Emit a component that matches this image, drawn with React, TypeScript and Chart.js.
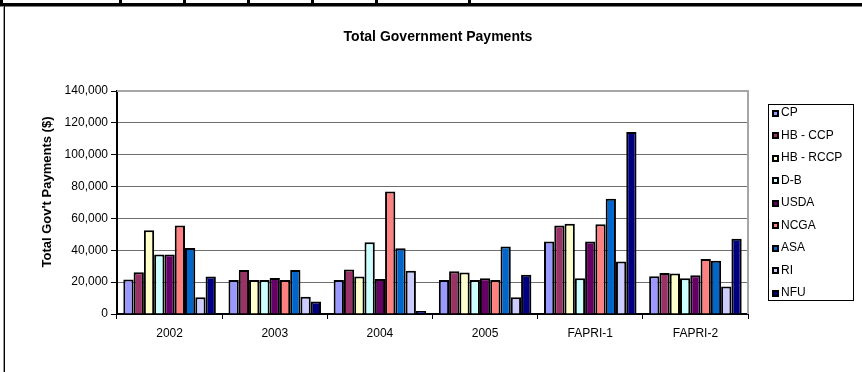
import React, { useEffect, useRef } from "react";
import { Chart, registerables } from "chart.js";

Chart.register(...registerables);

const categories = ["2002", "2003", "2004", "2005", "FAPRI-1", "FAPRI-2"];
const seriesNames = ["CP", "HB - CCP", "HB - RCCP", "D-B", "USDA", "NCGA", "ASA", "RI", "NFU"];
const seriesColors = ["#9999FF", "#993366", "#FFFFCC", "#CCFFFF", "#660066", "#FF8080", "#0066CC", "#CCCCFF", "#000080"];

const cp = [21600, 21400, 21400, 21400, 45500, 23700];
const hbCcp = [26200, 27700, 27900, 26800, 55500, 25800];
const hbRccp = [52600, 21400, 23500, 26000, 56600, 25400];
const dB = [37300, 21400, 45100, 21400, 22400, 22400];
const usda = [37300, 22600, 22000, 22400, 45500, 24300];
const ncga = [55500, 21400, 76900, 21400, 56400, 34600];
const asa = [41500, 27700, 41300, 42300, 72300, 33500];
const ri = [10500, 10900, 27200, 10500, 32900, 17200];
const nfu = [23500, 7800, 1900, 24700, 114200, 47200];

const seriesValues = [cp, hbCcp, hbRccp, dB, usda, ncga, asa, ri, nfu];

const yMin = 0;
const yMax = 140000;
const yStep = 20000;

const chartTitle = "Total Government Payments";
const yAxisTitle = "Total Gov't Payments ($)";

const FONT = "'Liberation Sans', Arial, sans-serif";

const overlayPlugin = {
  id: "overlay",
  afterDatasetsDraw(chart: any) {
    const { ctx, chartArea: a } = chart;
    ctx.save();
    ctx.strokeStyle = "#a6a6a6";
    ctx.lineWidth = 2;
    ctx.beginPath();
    ctx.moveTo(a.left, a.top);
    ctx.lineTo(a.right, a.top);
    ctx.lineTo(a.right, a.bottom);
    ctx.stroke();
    ctx.restore();
  },
  afterDraw(chart: any) {
    const { ctx } = chart;
    ctx.save();
    ctx.fillStyle = "#000";
    ctx.font = `bold 14px ${FONT}`;
    ctx.textAlign = "center";
    ctx.textBaseline = "middle";
    ctx.fillText(chartTitle, 438, 37);
    ctx.save();
    ctx.translate(47, 192);
    ctx.rotate(-Math.PI / 2);
    ctx.font = `bold 13px ${FONT}`;
    ctx.fillText(yAxisTitle, 0, 0);
    ctx.restore();
    const bx = 768, by = 104, bw = 85, bh = 196;
    ctx.fillStyle = "#fff";
    ctx.fillRect(bx, by, bw, bh);
    ctx.strokeStyle = "#000";
    ctx.lineWidth = 1;
    ctx.strokeRect(bx + 0.5, by + 0.5, bw, bh);
    ctx.font = `12px ${FONT}`;
    ctx.textAlign = "left";
    chart.data.datasets.forEach((ds: any, i: number) => {
      const cy = 113 + i * 22.5;
      const top = Math.round(cy - 3.5);
      ctx.fillStyle = "#000";
      ctx.fillRect(772, top, 7, 7);
      ctx.fillStyle = ds.backgroundColor;
      ctx.fillRect(774, top + 2, 3, 3);
      ctx.fillStyle = "#000";
      ctx.fillText(ds.label, 781, cy);
    });
    ctx.restore();
  },
};

export default function App() {
  const ref = useRef<HTMLCanvasElement | null>(null);

  useEffect(() => {
    if (!ref.current) return;
    const chart = new Chart(ref.current, {
      type: "bar",
      data: {
        labels: categories,
        datasets: seriesNames.map((name, i) => ({
          label: name,
          data: seriesValues[i],
          backgroundColor: seriesColors[i],
          borderColor: "#000000",
          borderWidth: 2,
          borderSkipped: "start",
          inflateAmount: 0,
          barPercentage: 1,
          categoryPercentage: 0.88,
        })),
      },
      options: {
        responsive: false,
        animation: false,
        devicePixelRatio: 1,
        layout: { padding: { left: 35, right: 114, top: 91, bottom: 18 } },
        plugins: {
          legend: { display: false },
          title: { display: false },
          tooltip: { enabled: false },
        },
        scales: {
          x: {
            grid: {
              display: true,
              drawOnChartArea: false,
              drawTicks: true,
              tickLength: 5,
              tickColor: "#000",
              offset: true,
            },
            border: { color: "#000", width: 2 },
            ticks: { color: "#000", font: { family: FONT, size: 12 }, padding: 7, maxRotation: 0 },
            afterFit: (s: any) => {
              s.height = 40;
            },
          },
          y: {
            min: yMin,
            max: yMax,
            grid: {
              color: "#6e6e6e",
              lineWidth: 1,
              drawTicks: true,
              tickLength: 6,
              tickColor: "#000",
            },
            border: { color: "#000", width: 2 },
            ticks: {
              stepSize: yStep,
              color: "#000",
              padding: 3,
              font: { family: FONT, size: 12 },
              callback: (v: any) => Number(v).toLocaleString("en-US"),
            },
            afterFit: (s: any) => {
              s.width = 82;
            },
          },
        },
      },
      plugins: [overlayPlugin],
    });
    return () => chart.destroy();
  }, []);

  const seps = [0, 119, 183, 247, 311, 375, 468];

  return (
    <div style={{ position: "fixed", left: 0, top: 0, width: 862, height: 372, background: "#fff", overflow: "hidden" }}>
      <canvas ref={ref} width={862} height={372} style={{ position: "absolute", left: 0, top: 0, width: 862, height: 372 }} />
      {seps.map((x) => (
        <div key={x} style={{ position: "absolute", left: x, top: 0, width: 3, height: 4, background: "#000" }} />
      ))}
      <div style={{ position: "absolute", left: 0, top: 3, width: 862, height: 3, background: "#000" }} />
      <div style={{ position: "absolute", left: 0, top: 6, width: 862, height: 1, background: "#808080" }} />
      <div style={{ position: "absolute", left: 3, top: 6, width: 1, height: 366, background: "#9a9a9a" }} />
      <div style={{ position: "absolute", left: 4, top: 6, width: 1, height: 366, background: "#000" }} />
    </div>
  );
}
